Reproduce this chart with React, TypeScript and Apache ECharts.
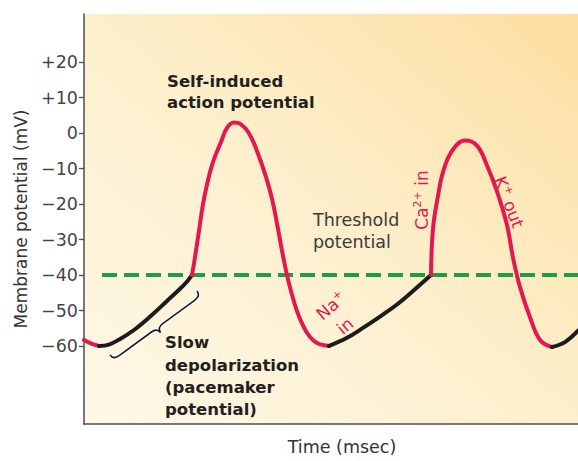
import React, { useEffect, useRef } from "react";
import * as echarts from "echarts";

// ---- data ----
const times = [
  0, 8, 15, 25, 35, 50, 67, 83, 100, 108,
  111, 115, 120, 128, 137, 143, 150, 157, 165, 173, 181, 188, 194, 200, 207, 217, 230, 245,
  263, 279, 296, 313, 329, 347,
  349, 354, 359, 368, 381, 393, 403, 413, 423, 429, 436, 446, 456, 468,
  481, 494,
];
const potentials = [
  -58.3, -59.4, -60, -59.6, -58.2, -55.5, -51.5, -47.3, -42.8, -40,
  -35, -27.5, -18.5, -9, -2.5, 1.5, 3, 2.5, 0, -5, -11.5, -18.5, -27, -36, -44.5, -53, -58.6, -60,
  -57.7, -54.9, -51.7, -48.3, -44.5, -40,
  -27, -17.7, -11, -5, -2.1, -3.5, -9.1, -16.4, -25.9, -35.1, -43.4, -51.9, -58.3, -60.3,
  -58.9, -55.7,
];
// colour segments of the trace: start time of each segment and its kind
const segmentStarts = [0, 15, 108, 245, 347, 468];
const segmentKinds = ["ion", "slow", "ion", "slow", "ion", "slow"];
const thresholdValue = -40;
const thresholdStart = 18;
const timeMin = 0;
const timeMax = 494;
const yTicks = [-60, -50, -40, -30, -20, -10, 0, 10, 20];
const yMin = -82;
const yMax = 33.6;

const RED = "#e2184e";
const BLACK = "#1c1c1c";
const GREEN = "#1f9c4b";
const FONT = "'DejaVu Sans', sans-serif";

const bracePath =
  "M0,0 C0,4 2,6 7,6 L47,6 C51,6 54,8 54,12 C54,8 57,6 61,6 L101,6 C106,6 108,4 108,0";
echarts.graphic.registerShape("brace", echarts.graphic.extendPath(bracePath, {}));

function boldText(text: string, x: number, y: number) {
  return {
    type: "text",
    x,
    y,
    z: 20,
    style: {
      text,
      fill: "#231f20",
      fontFamily: FONT,
      fontWeight: "bold",
      fontSize: 16.5,
      align: "left",
      textAlign: "left",
      verticalAlign: "middle",
      textVerticalAlign: "middle",
    },
  };
}

function plainText(text: string, x: number, y: number) {
  return {
    type: "text",
    x,
    y,
    z: 20,
    style: {
      text,
      fill: "#3a3a3a",
      fontFamily: FONT,
      fontSize: 17.5,
      align: "left",
      textAlign: "left",
      verticalAlign: "middle",
      textVerticalAlign: "middle",
    },
  };
}

function ionText(text: string, x: number, y: number, rotation: number) {
  return {
    type: "text",
    x,
    y,
    rotation,
    z: 20,
    style: {
      text,
      fill: RED,
      fontFamily: FONT,
      fontSize: 17,
      align: "center",
      textAlign: "center",
      verticalAlign: "middle",
      textVerticalAlign: "middle",
      rich: {
        n: { fontFamily: FONT, fontSize: 17, fill: RED, color: RED, lineHeight: 20 },
        s: { fontFamily: FONT, fontSize: 11, fill: RED, color: RED, verticalAlign: "top", lineHeight: 12 },
      },
    },
  };
}

export default function App() {
  const ref = useRef<HTMLDivElement>(null);

  useEffect(() => {
    if (!ref.current) return;
    const chart = echarts.init(ref.current, undefined, { renderer: "svg" });

    const traceSeries = segmentStarts.map((s, i) => {
      const end = i + 1 < segmentStarts.length ? segmentStarts[i + 1] : Infinity;
      const pts: number[][] = [];
      times.forEach((t, k) => {
        if (t >= s && t <= end) pts.push([t, potentials[k]]);
      });
      return {
        type: "line",
        data: pts,
        smooth: 0.4,
        showSymbol: false,
        silent: true,
        z: 3,
        lineStyle: {
          width: 4,
          cap: "round",
          join: "round",
          color: segmentKinds[i] === "ion" ? RED : BLACK,
        },
      };
    });

    const axisColor = "#4d4d4d";

    chart.setOption({
      animation: false,
      grid: {
        left: 84,
        right: 0,
        top: 14,
        bottom: 33,
        show: true,
        borderWidth: 0,
        backgroundColor: new echarts.graphic.LinearGradient(0, 1, 1, 0, [
          { offset: 0, color: "#fef8e8" },
          { offset: 0.5, color: "#fdefcc" },
          { offset: 1, color: "#fcdea0" },
        ]),
      },
      xAxis: {
        type: "value",
        min: timeMin,
        max: timeMax,
        name: "Time (msec)",
        nameLocation: "middle",
        nameGap: 14,
        nameTextStyle: {
          fontFamily: FONT,
          fontSize: 17.5,
          color: "#333",
          padding: [0, 0, 0, 22],
        },
        axisLine: { show: true, onZero: false, lineStyle: { color: axisColor, width: 1.5 } },
        axisTick: { show: false },
        axisLabel: { show: false },
        splitLine: { show: false },
      },
      yAxis: {
        type: "value",
        min: yMin,
        max: yMax,
        name: "Membrane potential (mV)",
        nameLocation: "middle",
        nameGap: 55,
        nameTextStyle: { fontFamily: FONT, fontSize: 17, color: "#333" },
        axisLine: { show: true, onZero: false, lineStyle: { color: axisColor, width: 1.5 } },
        axisTick: {
          show: true,
          length: 5,
          customValues: yTicks,
          lineStyle: { color: axisColor, width: 1.3 },
        },
        axisLabel: {
          customValues: yTicks,
          margin: 6,
          fontFamily: FONT,
          fontSize: 17.5,
          color: "#454545",
          formatter: (v: number) =>
            v > 0 ? "+" + v : v < 0 ? "\u2212" + Math.abs(v) : "0",
        },
        splitLine: { show: false },
      },
      series: [
        {
          type: "line",
          data: [
            [thresholdStart, thresholdValue],
            [timeMax, thresholdValue],
          ],
          showSymbol: false,
          silent: true,
          z: 2,
          lineStyle: { color: GREEN, width: 4, type: [15, 7] },
        },
        ...traceSeries,
      ],
      graphic: [
        {
          type: "brace",
          x: 110,
          y: 355,
          rotation: 0.634,
          z: 9,
          style: { fill: "none", stroke: "rgba(255,255,255,0.9)", lineWidth: 4 },
        },
        {
          type: "brace",
          x: 110,
          y: 355,
          rotation: 0.634,
          z: 10,
          style: { fill: "none", stroke: "#1a1a1a", lineWidth: 1.6 },
        },
        boldText("Self-induced", 167, 81),
        boldText("action potential", 167, 102),
        boldText("Slow", 165, 342),
        boldText("depolarization", 165, 365),
        boldText("(pacemaker", 165, 387),
        boldText("potential)", 165, 409),
        plainText("Threshold", 313, 220),
        plainText("potential", 313, 242),
        ionText("{n|Ca}{s|2+}{n| in}", 422, 200, Math.PI / 2),
        ionText("{n|K}{s|+}{n| out}", 509, 202, -1.2),
        ionText("{n|Na}{s|+}", 331, 306, 0.7),
        ionText("{n|in}", 345, 326, 0.7),
      ],
    });

    return () => chart.dispose();
  }, []);

  return (
    <div
      ref={ref}
      style={{ position: "absolute", left: 0, top: 0, width: 578, height: 461 }}
    />
  );
}
